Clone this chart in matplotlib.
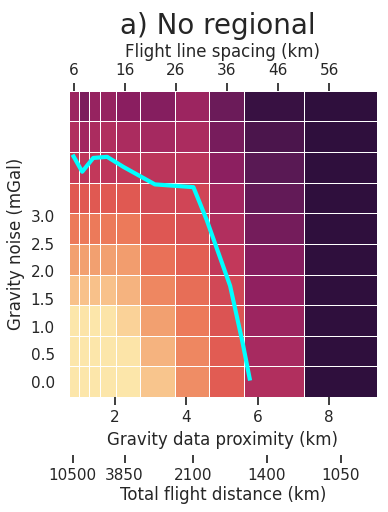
import numpy as np
import matplotlib
matplotlib.use("Agg")
import matplotlib.pyplot as plt
import seaborn as sns
from matplotlib.colors import LinearSegmentedColormap

# Gravity data proximity (km): cell edges of the grid columns
proximity_edges = [0.70, 0.98, 1.26, 1.586, 2.035, 2.709, 3.675, 4.63, 5.63, 7.313, 9.345]

# Gravity noise (mGal): row centres
noise_levels = [0.0, 0.556, 1.111, 1.667, 2.222, 2.778, 3.333, 3.889, 4.444, 5.0]

# Normalised misfit per cell (rows = noise, cols = proximity)
misfit = np.array([
    [0.02, 0.02, 0.02, 0.02, 0.02, 0.12, 0.31, 0.49, 0.67, 1.00],
    [0.02, 0.02, 0.02, 0.02, 0.03, 0.18, 0.33, 0.49, 0.70, 1.00],
    [0.02, 0.03, 0.02, 0.03, 0.08, 0.25, 0.37, 0.52, 0.74, 1.00],
    [0.13, 0.13, 0.13, 0.13, 0.18, 0.33, 0.42, 0.56, 0.78, 1.00],
    [0.25, 0.25, 0.25, 0.25, 0.26, 0.41, 0.48, 0.62, 0.81, 1.00],
    [0.37, 0.37, 0.37, 0.37, 0.37, 0.51, 0.54, 0.67, 0.85, 1.00],
    [0.50, 0.50, 0.50, 0.50, 0.50, 0.56, 0.57, 0.72, 0.89, 1.00],
    [0.60, 0.63, 0.62, 0.63, 0.62, 0.64, 0.64, 0.79, 0.91, 1.00],
    [0.67, 0.72, 0.69, 0.67, 0.69, 0.71, 0.69, 0.84, 0.94, 1.00],
    [0.74, 0.83, 0.76, 0.76, 0.80, 0.81, 0.74, 0.87, 0.98, 1.00],
])

# optimal line
line_prox = [0.81, 1.08, 1.39, 1.78, 2.23, 3.12, 4.20, 4.57, 5.23, 5.58, 5.79]
line_noise = [4.12, 3.81, 4.06, 4.08, 3.90, 3.58, 3.53, 2.94, 1.74, 0.71, 0.02]

# secondary axes ticks
spacing_ticks = [6, 16, 26, 36, 46, 56]
distance_labels = ["10500", "3850", "2100", "1400", "1050"]
distance_pos = [0.81, 2.27, 4.18, 6.26, 8.34]
prox_ticks = [2, 4, 6, 8]
noise_ticks = [0.0, 0.5, 1.0, 1.5, 2.0, 2.5, 3.0]

sns.set_theme(style="ticks")
plt.rcParams['font.family'] = ['DejaVu Sans']

# colormap like cmocean "matter"
matter = LinearSegmentedColormap.from_list("matter", [
    (0.00, "#fdedb0"), (0.12, "#f8c48c"), (0.25, "#f2a070"), (0.37, "#ec7a5a"),
    (0.50, "#e05a52"), (0.60, "#c83c58"), (0.70, "#a82a60"), (0.80, "#8a1e60"),
    (0.90, "#5e1a56"), (1.00, "#2f0f3d")])

fig = plt.figure(figsize=(3.88, 5.12), dpi=100)
ax = fig.add_axes([0.177, 0.2246, 0.794, 0.598])

# y edges from the row centres
y = np.array(noise_levels)
dy = np.diff(y)
y_edges = np.concatenate([[y[0] - dy[0] / 2], (y[:-1] + y[1:]) / 2, [y[-1] + dy[-1] / 2]])
ax.pcolormesh(proximity_edges, y_edges, misfit, cmap=matter, vmin=0, vmax=1,
              edgecolors='white', linewidth=0.6)

ax.plot(line_prox, line_noise, color='cyan', lw=3, solid_capstyle='butt')

ax.set_xlim(proximity_edges[0], proximity_edges[-1])
ax.set_ylim(y_edges[0], y_edges[-1])
for s in ax.spines.values():
    s.set_visible(False)

ax.set_xticks(prox_ticks)
ax.set_xlabel("Gravity data proximity (km)", fontsize=12)
ax.set_yticks(noise_ticks)
ax.set_yticklabels([f"{v:.1f}" for v in noise_ticks])
ax.tick_params(axis='y', length=0, pad=10)
ax.set_ylabel("Gravity noise (mGal)", fontsize=12)

# top axis: flight line spacing
top = ax.secondary_xaxis('top', functions=(lambda p: (p + 0.022) / 0.1435,
                                            lambda s: s * 0.1435 - 0.022))
top.set_xticks(spacing_ticks)
top.spines['top'].set_visible(False)
top.set_xlabel("Flight line spacing (km)", fontsize=12)

# second bottom axis: total flight distance
bot = ax.secondary_xaxis(-0.19)
bot.set_xticks(distance_pos)
bot.set_xticklabels(distance_labels)
bot.spines['bottom'].set_visible(False)
bot.set_xlabel("Total flight distance (km)", fontsize=12, labelpad=2)

ax.set_title("a) No regional", fontsize=20, pad=41, x=0.483)

fig.savefig("out.png", dpi=100)
